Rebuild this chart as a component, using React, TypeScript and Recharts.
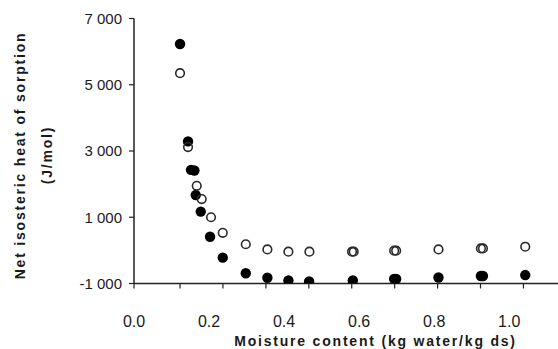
import React from 'react';
import { ScatterChart, Scatter, XAxis, YAxis } from 'recharts';

// Filled circles
const filledMoisture = [0.1227, 0.144, 0.152, 0.161, 0.1645, 0.1779, 0.2027, 0.2365, 0.2979, 0.3555, 0.4115, 0.4667, 0.5832, 0.6933, 0.6987, 0.8115, 0.9245, 0.93, 1.0427];
const filledHeat = [6230, 3290, 2430, 2410, 1670, 1170, 410, -220, -690, -825, -910, -940, -910, -865, -865, -820, -775, -775, -745];

// Open circles
const openMoisture = [0.1227, 0.144, 0.1672, 0.1805, 0.2053, 0.2365, 0.2979, 0.3555, 0.4115, 0.4675, 0.581, 0.5855, 0.6933, 0.6987, 0.8115, 0.9245, 0.93, 1.0427];
const openHeat = [5350, 3120, 1950, 1550, 1000, 530, 185, 30, -40, -40, -40, -40, -10, -10, 30, 60, 60, 110];

const xTickLabels = [0, 0.2, 0.4, 0.6, 0.8, 1.0];
const xTickMarks = [0, 0.1227, 0.237, 0.3515, 0.4659, 0.5803, 0.6947, 0.8091, 0.9235, 1.0379];
const yTicks = [-1000, 1000, 3000, 5000, 7000];

const filledData = filledMoisture.map((x, i) => ({ x, y: filledHeat[i] }));
const openData = openMoisture.map((x, i) => ({ x, y: openHeat[i] }));
const allXTicks = Array.from(new Set([...xTickLabels, ...xTickMarks])).sort((a, b) => a - b);

const FONT = 'Liberation Sans, Arial, sans-serif';
const INK = '#1a1a1a';

const fmtThousands = (v: number) => {
  const neg = v < 0;
  const a = Math.abs(v);
  const th = Math.floor(a / 1000);
  const rest = String(a % 1000).padStart(3, '0');
  const s = th > 0 ? `${th} ${rest}` : String(a);
  return neg ? `-${s}` : s;
};

const XTick = (props: any) => {
  const { x, y, payload } = props;
  const v = payload.value;
  const isLabel = xTickLabels.includes(v);
  const isMark = xTickMarks.includes(v);
  return (
    <g>
      {isMark && <line x1={x} x2={x} y1={y} y2={y + 5} stroke="#222" strokeWidth={1.2} />}
      {isLabel && (
        <text x={x} y={y + 37.5} dy="0.35em" textAnchor="middle" fontSize={16} fill={INK} fontFamily={FONT}>
          {v.toFixed(1)}
        </text>
      )}
    </g>
  );
};

const YTitle = () => (
  <g>
    <text x={20} y={155.5} dy="0.35em" transform="rotate(-90, 20, 155.5)" textAnchor="middle" fontSize={14} fontWeight="bold" letterSpacing={1.8} fill={INK} fontFamily={FONT}>
      Net isosteric heat of sorption
    </text>
    <text x={47} y={155} dy="0.35em" transform="rotate(-90, 47, 155)" textAnchor="middle" fontSize={14} fontWeight="bold" letterSpacing={1.8} fill={INK} fontFamily={FONT}>
      (J/mol)
    </text>
  </g>
);

const XTitle = () => (
  <text x={375.5} y={341} dy="0.35em" textAnchor="middle" fontSize={14} fontWeight="bold" letterSpacing={1.8} fill={INK} fontFamily={FONT}>
    Moisture content (kg water/kg ds)
  </text>
);

const FilledDot = (p: any) => <circle cx={p.cx} cy={p.cy} r={5.2} fill="#000" />;
const OpenDot = (p: any) => <circle cx={p.cx} cy={p.cy} r={4.3} fill="none" stroke="#2a2a2a" strokeWidth={1.6} />;

export default function App() {
  return (
    <div style={{ position: 'absolute', left: 0, top: 0, width: 558, height: 349, background: '#fff' }}>
      <ScatterChart width={558} height={349} margin={{ top: 18.5, right: 0, bottom: 0, left: 0 }}>
        <XAxis
          type="number"
          dataKey="x"
          domain={[0, 1.13]}
          ticks={allXTicks}
          interval={0}
          tickLine={false}
          tickSize={0}
          tickMargin={0}
          height={65.5}
          allowDataOverflow
          axisLine={{ stroke: '#222', strokeWidth: 1.5 }}
          tick={XTick}
          label={<XTitle />}
        />
        <YAxis
          type="number"
          dataKey="y"
          domain={[-1000, 7000]}
          ticks={yTicks}
          interval={0}
          width={134}
          tickSize={5}
          tickMargin={7}
          allowDataOverflow
          tickLine={{ stroke: '#222', strokeWidth: 1.2 }}
          axisLine={{ stroke: '#222', strokeWidth: 1.5 }}
          tick={{ fontSize: 15, fill: INK, fontFamily: FONT }}
          tickFormatter={fmtThousands}
          label={<YTitle />}
        />
        <Scatter data={filledData} isAnimationActive={false} shape={FilledDot} />
        <Scatter data={openData} isAnimationActive={false} shape={OpenDot} />
      </ScatterChart>
    </div>
  );
}
